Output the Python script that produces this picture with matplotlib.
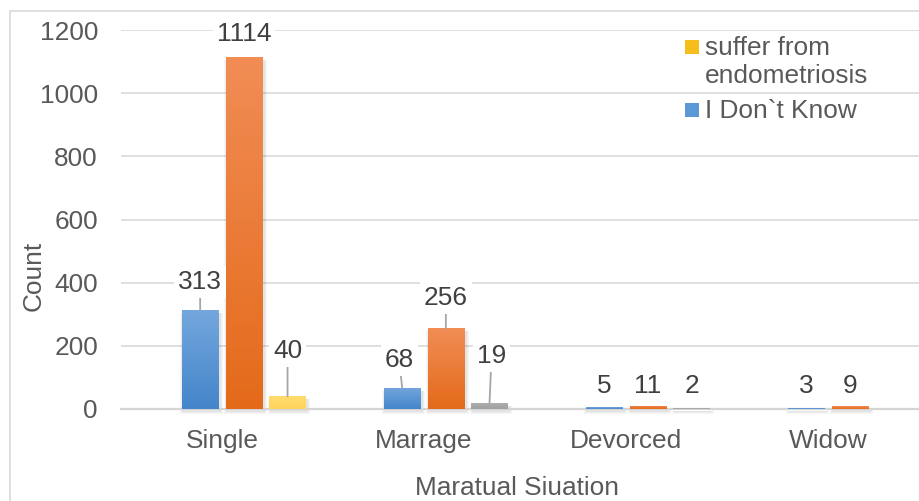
import numpy as np
import matplotlib
matplotlib.use("Agg")
import matplotlib.pyplot as plt
from matplotlib.patches import Rectangle
from matplotlib.colors import LinearSegmentedColormap

# data
categories = ["Single", "Marrage", "Devorced", "Widow"]
empty_series = [0, 0, 0, 0]            # first slot in each group, nothing drawn
dont_know = [313, 68, 5, 3]             # blue
orange_series = [1114, 256, 11, 9]      # orange
fourth_series = [40, 19, 2, 0]          # yellow in Single, grey elsewhere
y_ticks = [0, 200, 400, 600, 800, 1000, 1200]

plt.rcParams['font.family'] = ['Liberation Sans', 'DejaVu Sans']
FS = 18.9
TICK_C = "#595959"
LABEL_C = "#404040"

BLUE = ("#4485ca", "#74a7dd")       # bottom, top
ORANGE = ("#e46a1a", "#f18d55")
YELLOW = ("#ffd45a", "#ffdb6e")
GREY = ("#a0a0a0", "#b0b0b0")

fig = plt.figure(figsize=(9.2, 5.01), dpi=100)
W, H = 920, 501
ax = fig.add_axes([121 / W, 1 - 409 / H, 1 - 121 / W, (409 - 30) / H])

x = np.arange(len(categories))
pitch = 0.2163
width = 0.1807
px_x = 1 / 202.0          # data units per pixel
px_y = 1200 / 379.0


def gradient_bar(bar, colors):
    bx, by = bar.get_xy()
    bw, bh = bar.get_width(), bar.get_height()
    if bh <= 0:
        return
    # soft shadow, mostly below and to the right
    for k in range(3):
        grow = k + 1.0
        sh = Rectangle((bx - grow * px_x + 1.5 * px_x, by - (grow + 2) * px_y),
                       bw + 2 * grow * px_x, bh + (grow - 1) * px_y,
                       fc="black", ec="none", alpha=0.035, zorder=1.5,
                       clip_on=False)
        ax.add_patch(sh)
    cmap = LinearSegmentedColormap.from_list("g", list(colors))
    grad = np.linspace(0, 1, 128).reshape(-1, 1)
    im = ax.imshow(grad, extent=[bx, bx + bw, by, by + bh], origin="lower",
                   cmap=cmap, aspect="auto", zorder=2, interpolation="bilinear")
    im.set_clip_path(bar)
    bar.set_facecolor("none")


series = [
    (empty_series, [BLUE] * 4),
    (dont_know, [BLUE] * 4),
    (orange_series, [ORANGE] * 4),
    (fourth_series, [YELLOW, GREY, GREY, GREY]),
]
offsets = [-1.5, -0.5, 0.5, 1.5]

bar_groups = []
for (vals, cols), off in zip(series, offsets):
    bars = ax.bar(x + off * pitch, vals, width, color="none", edgecolor="none",
                  zorder=2)
    for b, c in zip(bars, cols):
        gradient_bar(b, c)
    bar_groups.append(bars)

# data labels: (series index, category index, dx pt, dy pt, leader line)
label_pos = [
    (1, 0, 0, 21.9, True), (2, 0, 0, 18.6, False), (3, 0, 0, 34.3, True),
    (1, 1, -2.2, 21.6, True), (2, 1, 0, 23.7, True), (3, 1, 1.4, 35.4, True),
    (1, 2, 0, 17.0, False), (2, 2, 0, 15.7, False), (3, 2, 0, 17.8, False),
    (1, 3, 0, 17.5, False), (2, 3, 0, 16.1, False),
]
for si, ci, dx, dy, leader in label_pos:
    val = series[si][0][ci]
    bx = x[ci] + offsets[si] * pitch
    kw = {}
    if leader:
        kw["arrowprops"] = dict(arrowstyle="-", color="#a6a6a6", lw=1.3,
                                shrinkA=0, shrinkB=0)
    ax.annotate(str(val), xy=(bx, val), xytext=(dx, dy),
                textcoords="offset points", ha="center", va="center_baseline",
                fontsize=FS, color=LABEL_C, zorder=5,
                bbox=dict(boxstyle="square,pad=0.15", fc="white", ec="none"),
                **kw)

ax.set_xlim(-0.5, (W - 121) / 202.0 - 0.5)
ax.set_ylim(0, 1200)
ax.set_yticks(y_ticks)
ax.set_xticks(x)
ax.set_xticklabels(categories)
ax.tick_params(axis="y", length=0, pad=16.6, labelsize=FS, labelcolor=TICK_C)
ax.tick_params(axis="x", length=0, pad=14.5, labelsize=FS, labelcolor=TICK_C)
ax.yaxis.grid(True, color="#d9d9d9", lw=1.2)
ax.set_axisbelow(True)
for s in ["left", "right", "top"]:
    ax.spines[s].set_visible(False)
ax.spines["bottom"].set_color("#d4d4d4")
ax.spines["bottom"].set_linewidth(1.6)
ax.spines["bottom"].set_zorder(1.8)

# axis titles
fig.text(517.5 / W, 1 - 495 / H, "Maratual Siuation", ha="center",
         va="baseline", fontsize=FS, color=TICK_C)
fig.text(33.8 / W, 1 - 276 / H, "Count", ha="center", va="center",
         rotation=90, fontsize=FS, color=TICK_C)

# legend (only two entries visible in the original)
legend_items = [("suffer from", 55, "#f7bd1c"), ("endometriosis", 83.3, None),
                ("I Don`t Know", 118.3, "#5a98d6")]
for text, base, col in legend_items:
    fig.text(705 / W, 1 - base / H, text, ha="left", va="baseline",
             fontsize=FS, color=TICK_C)
    if col:
        fig.patches.append(Rectangle((685 / W, 1 - (base - 1.5) / H), 14 / W,
                                     14 / H, transform=fig.transFigure,
                                     fc=col, ec="none"))

# chart border
fig.patches.append(Rectangle((10.5 / W, -0.5), 2, 1.5 - 10.5 / H,
                             transform=fig.transFigure, fill=False,
                             ec="#d9d9d9", lw=1.2))

fig.savefig("out.png", dpi=100)
